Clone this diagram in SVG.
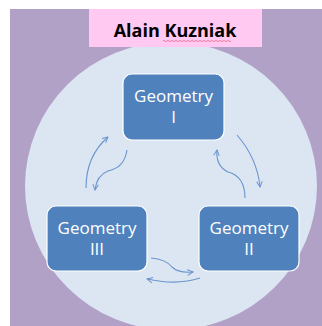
<svg xmlns="http://www.w3.org/2000/svg" width="322" height="326" viewBox="0 0 322 326">
<defs>
<style>
.node rect{fill:#4f81bd;stroke:#ffffff;stroke-width:1.2}
.node text{font-family:"Open Sans","Liberation Sans",sans-serif;font-size:17px;fill:#ffffff;text-anchor:middle}
.conn path{fill:none;stroke:#6a95cd;stroke-width:1.1}
</style>
<marker id="ah" viewBox="0 0 10 10" refX="9" refY="5" markerWidth="7" markerHeight="7" orient="auto" markerUnits="userSpaceOnUse">
<path d="M1,1 L9,5 L1,9" fill="none" stroke="#6a95cd" stroke-width="1.4"/>
</marker>
</defs>
<rect x="0" y="0" width="322" height="326" fill="#ffffff"/>
<rect x="10" y="9" width="312" height="317" fill="#b2a1c7"/>
<ellipse cx="171" cy="186" rx="146" ry="144" fill="#dce6f2"/>
<g id="title">
<rect x="89" y="9" width="173" height="38" fill="#ffc9f1"/>
<text x="175" y="37" font-family="Open Sans, Liberation Sans, sans-serif" font-size="18" font-weight="bold" fill="#000000" text-anchor="middle">Alain Kuzniak</text>
<path d="M163,41 q1,-1.5 2,0 t2,0 t2,0 t2,0 t2,0 t2,0 t2,0 t2,0 t2,0 t2,0 t2,0 t2,0 t2,0 t2,0 t2,0 t2,0 t2,0 t2,0 t2,0 t2,0 t2,0 t2,0 t2,0 t2,0 t2,0 t2,0 t2,0 t2,0 t2,0 t2,0 t2,0 t2,0 t2,0 t2,0" fill="none" stroke="#e06080" stroke-width="0.7"/>
</g>
<g class="conn" id="connectors">
<path d="M86,188 C86,168 93,150 108,137" marker-end="url(#ah)"/>
<path d="M127,150 C125,162 120,168 108,171 C100,174 96,181 95,190" marker-end="url(#ah)"/>
<path d="M237,135 C250,150 258,166 260,187" marker-end="url(#ah)"/>
<path d="M245,198 C245,185 240,175 228,172 C220,168 216,160 217,150" marker-end="url(#ah)"/>
<path d="M151,258 C163,259 168,262 172,267 C176,271 182,273 193,272" marker-end="url(#ah)"/>
<path d="M200,278 C185,283 165,283 147,279" marker-end="url(#ah)"/>
</g>
<g class="node" id="geometry1">
<rect x="123" y="74" width="101" height="66" rx="9"/>
<text x="173.5" y="102">Geometry</text>
<text x="173.5" y="123">I</text>
</g>
<g class="node" id="geometry2">
<rect x="199" y="206" width="100" height="65" rx="9"/>
<text x="249" y="234">Geometry</text>
<text x="249" y="255">II</text>
</g>
<g class="node" id="geometry3">
<rect x="47" y="206" width="100" height="65" rx="9"/>
<text x="97" y="234">Geometry</text>
<text x="97" y="255">III</text>
</g>
</svg>
